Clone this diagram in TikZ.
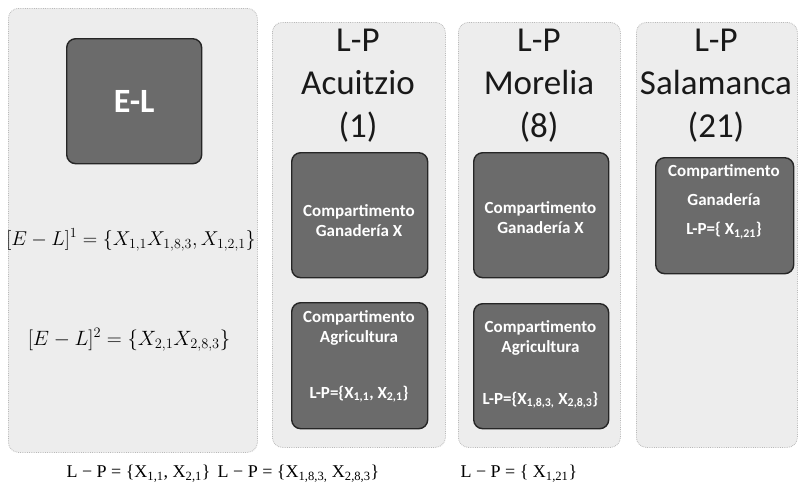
\documentclass[tikz,border=0pt]{standalone}
\usepackage[no-math]{fontspec}
\setmainfont{Carlito}
\newfontfamily\serifb{Liberation Serif}
\begin{document}
\begin{tikzpicture}[x=1pt,y=-1pt,
  panel/.style={draw=gray!55, densely dotted, line width=0.8pt, fill=gray!14, rounded corners=10pt, anchor=north west, inner sep=0pt},
  darkbox/.style={draw=black!85, line width=1.4pt, fill=black!58, rounded corners=9pt, anchor=north west, inner sep=0pt},
  title/.style={align=center, font=\fontsize{35}{43}\selectfont, text=black!90},
  boxtext/.style={align=center, text=white, font=\bfseries\fontsize{17}{20}\selectfont},
  formula/.style={font=\fontsize{17}{20}\selectfont},
  bottomtext/.style={anchor=west, font=\serifb\fontsize{18}{20}\selectfont}
]
\useasboundingbox (0,0) rectangle (801,496);
% panels
\node[panel, minimum width=249pt, minimum height=444pt] (p1) at (8,8) {};
\node[panel, minimum width=173pt, minimum height=425pt] (p2) at (272,22) {};
\node[panel, minimum width=162pt, minimum height=425pt] (p3) at (458,22) {};
\node[panel, minimum width=161pt, minimum height=425pt] (p4) at (636,22) {};
% E-L
\node[darkbox, minimum width=135pt, minimum height=125pt] (el) at (66,38) {};
\node[text=white, font=\bfseries\fontsize{34}{40}\selectfont] (eltxt) at (el.center) {E-L};
\node[formula] (f1) at (131,240) {\scalebox{1.16}{$[E-L]^1=\{X_{1,1}X_{1,8,3},X_{1,2,1}\}$}};
\node[formula] (f2) at (129,340) {\scalebox{1.2}{$[E-L]^2=\{X_{2,1}X_{2,8,3}\}$}};
% titles
\node[title] (t2) at (358,86) {L-P\\Acuitzio\\(1)};
\node[title] (t3) at (539,86) {L-P\\Morelia\\(8)};
\node[title] (t4) at (716,86) {L-P\\Salamanca\\(21)};
% Acuitzio boxes
\node[darkbox, minimum width=136pt, minimum height=125pt] (g1) at (291,152) {};
\node[boxtext] (g1t) at (359,221) {Compartimento\\Ganadería X};
\node[darkbox, minimum width=136pt, minimum height=126pt] (a1) at (291,302) {};
\node[boxtext] (a1t) at (359,328) {Compartimento\\Agricultura};
\node[boxtext] (a1l) at (359,394) {L-P=\{X\textsubscript{1,1}, X\textsubscript{2,1}\}};
% Morelia boxes
\node[darkbox, minimum width=135pt, minimum height=125pt] (g2) at (473,152) {};
\node[boxtext] (g2t) at (540.5,218) {Compartimento\\Ganadería X};
\node[darkbox, minimum width=135pt, minimum height=125pt] (a2) at (473,303) {};
\node[boxtext] (a2t) at (540.5,338) {Compartimento\\Agricultura};
\node[boxtext] (a2l) at (540.5,400) {L-P=\{X\textsubscript{1,8,3,} X\textsubscript{2,8,3}\}};
% Salamanca box
\node[darkbox, minimum width=138pt, minimum height=116pt] (g3) at (655,157) {};
\node[boxtext, font=\bfseries\fontsize{17}{29}\selectfont] (g3t) at (724,202) {Compartimento\\Ganadería\\L-P=\{ X\textsubscript{1,21}\}};
% bottom
\node[bottomtext] (b1) at (63,474) {L − P = \{X\textsubscript{1,1}, X\textsubscript{2,1}\}};
\node[bottomtext] (b2) at (b1.east) {L − P = \{X\textsubscript{1,8,3,} X\textsubscript{2,8,3}\}};
\node[bottomtext] (b3) at (457,474) {L − P = \{ X\textsubscript{1,21}\}};
\end{tikzpicture}
\end{document}
